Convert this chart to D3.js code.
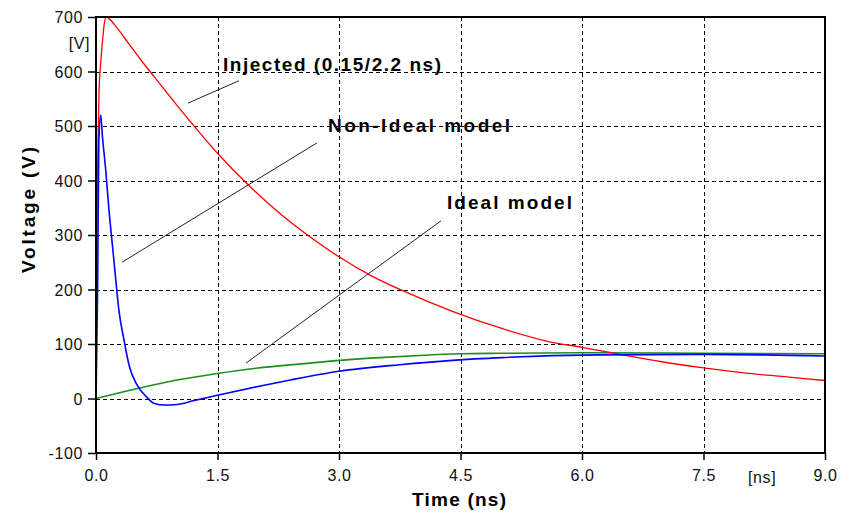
<!DOCTYPE html>
<html>
<head>
<meta charset="utf-8">
<script src="https://cdn.jsdelivr.net/npm/d3@7"></script>
<style>
  html, body { margin: 0; padding: 0; background: #ffffff; }
  svg { display: block; }
  .tick-label { font-family: "Liberation Sans", Arial, sans-serif; font-size: 16px; fill: #111; letter-spacing: 0.6px; }
  .title { font-family: "Liberation Sans", Arial, sans-serif; font-weight: bold; font-size: 19px; fill: #000; }
</style>
</head>
<body>
<svg id="chart" width="851" height="515"></svg>
<script>
// Injected pulse (0.15/2.2 ns)
const tInjected = [0, 0.012, 0.025, 0.037, 0.06, 0.08, 0.1, 0.125, 0.16, 0.26, 0.39, 0.55, 0.72, 1.0, 1.25, 1.5, 1.9, 2.3, 2.65, 3.0, 3.4, 3.8, 4.4, 5.0, 5.6, 6.0, 6.5, 7.0, 7.5, 8.0, 8.5, 9.0];
const vInjected = [100, 330, 470, 560, 620, 655, 685, 700, 697, 680, 654, 622, 590, 538, 493, 450, 389, 336, 296, 260, 225, 197, 160, 129, 104, 94, 80, 67, 56, 47, 40, 33];

// Non-ideal model response
const tNonIdeal = [0, 0.02, 0.035, 0.058, 0.08, 0.12, 0.16, 0.2, 0.24, 0.28, 0.35, 0.41, 0.51, 0.63, 0.72, 0.85, 1.0, 1.2, 1.5, 2.0, 2.4, 3.0, 3.75, 4.4, 5.0, 6.2, 7.5, 9.0];
const vNonIdeal = [0, 200, 470, 520, 480, 419, 346, 285, 224, 165, 104, 60, 24, 2, -9, -12, -11, -4, 6, 22, 34, 50, 62, 70, 75, 80, 81, 78];

// Ideal model response
const tIdeal = [0, 0.5, 1.0, 1.5, 2.0, 2.5, 3.0, 3.5, 4.0, 4.5, 5.0, 6.0, 7.5, 9.0];
const vIdeal = [0, 18, 34, 46, 56, 63, 70, 75, 79, 82, 83, 84, 83, 82];

// Axis ticks
const xTicks = [0, 1.5, 3.0, 4.5, 6.0, 7.5, 9.0];
const yTicks = [-100, 0, 100, 200, 300, 400, 500, 600, 700];

// Curve labels with leader lines, in data units
const labelText = ["Injected (0.15/2.2 ns)", "Non-Ideal model", "Ideal model"];
const labelAt = [[1.568, 601], [2.864, 489], [4.333, 348]];
const labelWidth = [218, 182, 125];
const leaderFrom = [[1.136, 542], [0.321, 250], [1.852, 65]];
const leaderTo = [[1.765, 583], [2.728, 469], [4.259, 326]];

const svg = d3.select("#chart");
const x = d3.scaleLinear().domain([0, 9]).range([96, 825]);
const y = d3.scaleLinear().domain([-100, 700]).range([453, 17]);

// Grid
const grid = svg.append("g").attr("stroke", "#000").attr("stroke-width", 1).attr("stroke-dasharray", "4,3");
grid.selectAll("line.h").data(yTicks.filter(v => v > -100 && v < 700)).join("line")
  .attr("x1", x(0)).attr("x2", x(9))
  .attr("y1", d => Math.round(y(d)) + 0.5).attr("y2", d => Math.round(y(d)) + 0.5);
grid.selectAll("line.v").data(xTicks.filter(v => v > 0 && v < 9)).join("line")
  .attr("y1", y(700)).attr("y2", y(-100))
  .attr("x1", d => Math.round(x(d)) + 0.5).attr("x2", d => Math.round(x(d)) + 0.5);

// Curves
const line = d3.line().curve(d3.curveMonotoneX).x(d => x(d[0])).y(d => y(d[1]));
const series = [
  { t: tIdeal, v: vIdeal, color: "#1a8f1a", w: 1.6 },
  { t: tInjected, v: vInjected, color: "#ff0000", w: 1.3 },
  { t: tNonIdeal, v: vNonIdeal, color: "#0000ff", w: 1.6 }
];
series.forEach(s => {
  svg.append("path")
    .datum(s.t.map((t, i) => [t, s.v[i]]))
    .attr("fill", "none")
    .attr("stroke", s.color)
    .attr("stroke-width", s.w)
    .attr("stroke-linejoin", "round")
    .attr("d", line);
});

// Axes
const yAxis = d3.axisLeft(y).tickValues(yTicks).tickSize(8).tickPadding(5).tickFormat(d => String(d));
const gy = svg.append("g").attr("transform", `translate(${x(0)},0)`).call(yAxis);
const xAxis = d3.axisBottom(x).tickValues(xTicks).tickSize(7).tickPadding(10).tickFormat(d => d.toFixed(1));
const gx = svg.append("g").attr("transform", `translate(0,${y(-100)})`).call(xAxis);
[gx, gy].forEach(g => {
  g.select(".domain").remove();
  g.selectAll(".tick line").attr("stroke", "#000").attr("stroke-width", 1.5);
  g.selectAll(".tick text").attr("class", "tick-label").attr("fill", "#111");
});
gy.selectAll(".tick text").attr("dy", "0.36em");
gx.selectAll(".tick text").attr("dy", "0.71em");

// Frame
svg.append("rect")
  .attr("x", x(0)).attr("y", y(700))
  .attr("width", x(9) - x(0)).attr("height", y(-100) - y(700))
  .attr("fill", "none").attr("stroke", "#000").attr("stroke-width", 2);

// Unit marks
svg.append("text").attr("class", "tick-label").attr("x", 90).attr("y", 49).attr("text-anchor", "end").text("[V]");
svg.append("text").attr("class", "tick-label").attr("x", 748).attr("y", 483).text("[ns]");

// Axis titles
svg.append("text").attr("class", "title")
  .attr("transform", "translate(35,210) rotate(-90)")
  .attr("text-anchor", "middle")
  .attr("textLength", 126).attr("lengthAdjust", "spacing")
  .text("Voltage (V)");
svg.append("text").attr("class", "title")
  .attr("x", 459).attr("y", 506)
  .attr("text-anchor", "middle")
  .attr("textLength", 94).attr("lengthAdjust", "spacing")
  .text("Time (ns)");

// Curve labels
labelText.forEach((txt, i) => {
  svg.append("line")
    .attr("x1", x(leaderFrom[i][0])).attr("y1", y(leaderFrom[i][1]))
    .attr("x2", x(leaderTo[i][0])).attr("y2", y(leaderTo[i][1]))
    .attr("stroke", "#222").attr("stroke-width", 1);
  svg.append("text").attr("class", "title")
    .attr("x", x(labelAt[i][0])).attr("y", y(labelAt[i][1]))
    .attr("textLength", labelWidth[i]).attr("lengthAdjust", "spacing")
    .text(txt);
});
</script>
</body>
</html>
